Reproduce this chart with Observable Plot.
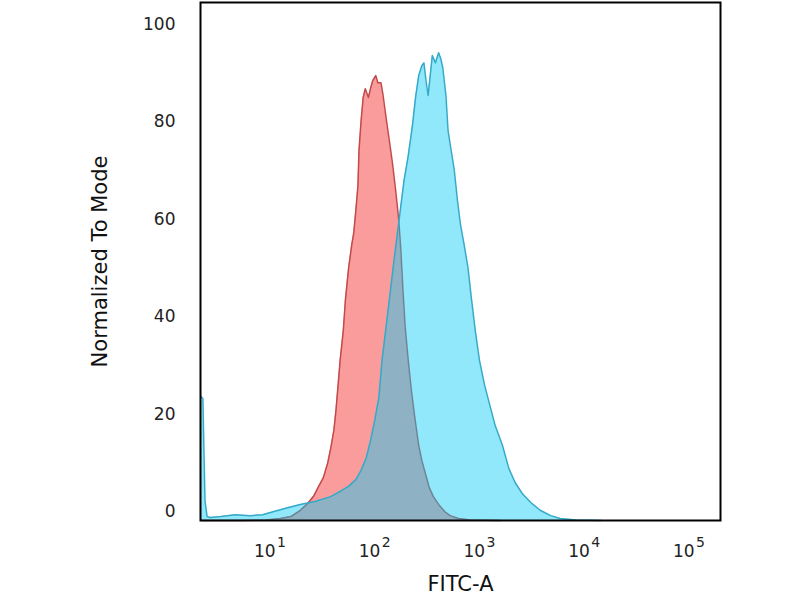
<!DOCTYPE html>
<html>
<head>
<meta charset="utf-8">
<script src="https://cdn.jsdelivr.net/npm/d3@7"></script>
<script src="https://cdn.jsdelivr.net/npm/@observablehq/plot@0.6"></script>
<style>
  body { margin: 0; background: #fff; }
</style>
</head>
<body>
<div id="chart"></div>
<script>
// decades shown on the FITC-A axis, and the y ticks
const decadeExps = [1, 2, 3, 4, 5];
const yTicks = [0, 20, 40, 60, 80, 100];

// isotype control (red), log10 of FITC-A and % of mode
const isotypeLogFitc = [0.34, 0.71, 0.95, 1.09, 1.19, 1.28, 1.35, 1.41, 1.45, 1.50, 1.54, 1.57, 1.60, 1.62, 1.64, 1.66, 1.69, 1.71, 1.74, 1.77, 1.79, 1.81, 1.83, 1.84, 1.86, 1.88, 1.90, 1.93, 1.95, 1.97, 2.00, 2.02, 2.05, 2.07, 2.10, 2.13, 2.16, 2.19, 2.22, 2.24, 2.26, 2.28, 2.31, 2.34, 2.37, 2.41, 2.44, 2.48, 2.51, 2.55, 2.60, 2.66, 2.71, 2.79, 2.90, 3.19];
const isotypeMode = [0, 0, 0.1, 0.4, 0.8, 2.1, 3.5, 5.1, 6.8, 8.8, 11.7, 14.8, 18.5, 22.6, 27.7, 32.9, 39.0, 45.2, 51.7, 56.5, 59.1, 63.7, 68.8, 76.0, 82.1, 86.9, 88.7, 86.9, 88.7, 90.3, 91.4, 89.9, 89.9, 87.3, 82.5, 78.0, 73.3, 67.8, 61.6, 55.4, 47.2, 40.0, 32.9, 26.7, 21.6, 15.4, 12.3, 9.2, 6.8, 4.9, 3.3, 1.8, 1.0, 0.4, 0.1, 0];

// stained sample (blue)
const antibodyLogFitc = [0.33, 0.35, 0.36, 0.37, 0.39, 0.42, 0.52, 0.66, 0.80, 0.92, 1.02, 1.14, 1.28, 1.42, 1.57, 1.66, 1.74, 1.81, 1.86, 1.91, 1.95, 1.99, 2.03, 2.06, 2.10, 2.14, 2.18, 2.21, 2.24, 2.27, 2.31, 2.35, 2.38, 2.41, 2.44, 2.46, 2.48, 2.50, 2.52, 2.54, 2.57, 2.60, 2.62, 2.64, 2.67, 2.69, 2.72, 2.75, 2.78, 2.81, 2.84, 2.88, 2.91, 2.95, 2.99, 3.04, 3.09, 3.14, 3.21, 3.27, 3.33, 3.40, 3.48, 3.57, 3.67, 3.76, 3.91, 4.15];
const antibodyMode = [25.5, 25.0, 14.0, 4.0, 0.8, 0.6, 0.8, 1.2, 1.0, 1.2, 1.8, 2.5, 3.3, 3.9, 4.9, 6.0, 7.0, 8.4, 10.3, 12.9, 16.4, 20.5, 25.3, 32.9, 40.0, 47.2, 54.4, 59.5, 64.7, 69.8, 74.9, 81.1, 86.9, 91.4, 93.4, 94.0, 90.3, 87.3, 91.4, 95.5, 94.0, 96.1, 94.9, 93.0, 87.3, 80.1, 76.0, 71.9, 65.7, 60.6, 57.1, 52.0, 46.2, 39.0, 32.9, 27.7, 23.6, 19.5, 15.4, 10.7, 7.8, 5.5, 3.7, 2.1, 1.0, 0.4, 0.1, 0];

const isotype = isotypeLogFitc.map((e, i) => ({fitc: 10 ** e, mode: isotypeMode[i]}));
const antibody = antibodyLogFitc.map((e, i) => ({fitc: 10 ** e, mode: antibodyMode[i]}));

const font = "DejaVu Sans, sans-serif";

const chart = Plot.plot({
  width: 800,
  height: 600,
  marginLeft: 200,
  marginRight: 80,
  marginTop: 2,
  marginBottom: 80,
  style: {fontFamily: font, background: "#fff", color: "#222"},
  x: {type: "log", domain: [10 ** 0.327, 10 ** 5.291]},
  y: {domain: [0, 106.4]},
  marks: [
    Plot.areaY(isotype, {x: "fitc", y: "mode", fill: "#fb9c9c"}),
    Plot.lineY(isotype, {x: "fitc", y: "mode", stroke: "#c24a4a", strokeWidth: 1.5}),
    Plot.areaY(antibody, {x: "fitc", y: "mode", fill: "#09ccf4", fillOpacity: 0.45}),
    Plot.lineY(antibody, {x: "fitc", y: "mode", stroke: "#35aac8", strokeWidth: 1.5}),
    Plot.axisY({ticks: yTicks, tickSize: 0, tickPadding: 25, dy: -9, fontSize: 17, label: null}),
    Plot.axisX({ticks: [], label: null}),
    // x tick labels: "10" with the exponent raised
    Plot.text(decadeExps, {x: d => 10 ** d, text: () => "10", frameAnchor: "bottom", textAnchor: "end", dx: 4.6, dy: 36, fontSize: 17}),
    Plot.text(decadeExps, {x: d => 10 ** d, text: d => String(d), frameAnchor: "bottom", textAnchor: "start", dx: 6, dy: 26, fontSize: 14}),
    Plot.text(["FITC-A"], {frameAnchor: "bottom", dy: 70, fontSize: 21, fill: "#111"}),
    Plot.text(["Normalized To Mode"], {frameAnchor: "left", textAnchor: "middle", dx: -100, rotate: -90, fontSize: 21, fill: "#111"}),
    Plot.frame({stroke: "#000", strokeWidth: 2})
  ]
});

document.getElementById("chart").append(chart);
</script>
</body>
</html>
